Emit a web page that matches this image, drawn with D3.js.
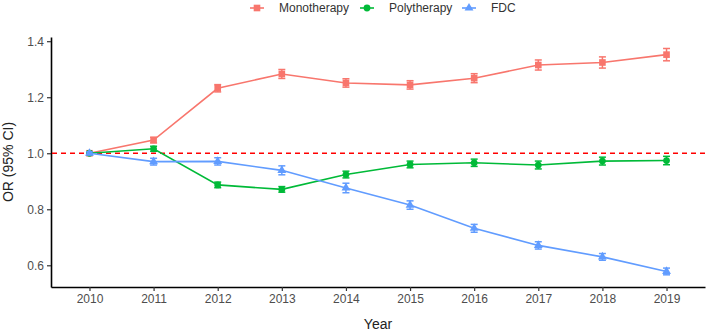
<!DOCTYPE html>
<html><head><meta charset="utf-8">
<script src="https://cdn.jsdelivr.net/npm/d3@7"></script>
<style>body{margin:0;background:#fff}svg{display:block;font-family:"Liberation Sans",Arial,sans-serif}</style>
</head><body>
<svg id="c" width="709" height="333"></svg>
<script>
const years = [2010,2011,2012,2013,2014,2015,2016,2017,2018,2019];
const seriesNames = ["Monotherapy","Polytherapy","FDC"];
const colors = ["#F8766D","#00BA38","#619CFF"];
const monoOR = [1.000,1.047,1.232,1.283,1.251,1.244,1.268,1.315,1.324,1.352];
const monoErr = [0.004,0.010,0.013,0.016,0.015,0.015,0.016,0.018,0.020,0.022];
const polyOR = [1.000,1.016,0.887,0.871,0.924,0.960,0.966,0.958,0.972,0.974];
const polyErr = [0.004,0.009,0.010,0.010,0.012,0.012,0.013,0.014,0.014,0.015];
const fdcOR = [1.000,0.970,0.971,0.939,0.876,0.815,0.732,0.671,0.630,0.578];
const fdcErr = [0.005,0.012,0.013,0.016,0.017,0.015,0.014,0.013,0.012,0.012];
const yTicks = [0.6,0.8,1.0,1.2,1.4];
const refValue = 1.0;

const data = [monoOR, polyOR, fdcOR].map((v,i)=>({
  name: seriesNames[i], color: colors[i],
  pts: years.map((y,j)=>({year:y, or:v[j], err:[monoErr,polyErr,fdcErr][i][j]}))
}));

const svg = d3.select("#c");
const L=51, R=705, T=37, B=287;
const x = d3.scaleLinear().domain([2009.4,2019.6]).range([L,R]);
const y = d3.scaleLinear().domain([0.5225,1.415]).range([B,T]);

// axes
const xAx = svg.append("g").attr("transform",`translate(0,${B})`)
  .call(d3.axisBottom(x).tickValues(years).tickFormat(d3.format("d")).tickSize(4).tickSizeOuter(0));
const yAx = svg.append("g").attr("transform",`translate(${L},0)`)
  .call(d3.axisLeft(y).tickValues(yTicks).tickFormat(d3.format(".1f")).tickSize(4).tickSizeOuter(0));
[xAx,yAx].forEach(a=>{
  a.select(".domain").attr("stroke","#000").attr("stroke-width",1.6);
  a.selectAll(".tick line").attr("stroke","#333").attr("stroke-width",1.2);
  a.selectAll(".tick text").attr("fill","#4D4D4D").style("font-size","12px").style("font-family","Liberation Sans, Arial, sans-serif");
});
xAx.selectAll(".tick text").attr("dy","0.71em").attr("y",7);
yAx.selectAll(".tick text").attr("x",-7);

// reference line
svg.append("line").attr("x1",L+1).attr("x2",R).attr("y1",y(refValue)).attr("y2",y(refValue))
  .attr("stroke","#FF0000").attr("stroke-width",1.5).attr("stroke-dasharray","5,4");

const line = d3.line().x(d=>x(d.year)).y(d=>y(d.or));
const sym = [d3.symbolSquare, d3.symbolCircle, d3.symbolTriangle];
const symSize = [44, 36, 34];

data.forEach((s,i)=>{
  const g = svg.append("g");
  g.append("path").datum(s.pts).attr("d",line).attr("fill","none").attr("stroke",s.color).attr("stroke-width",1.6);
  // points
  g.selectAll("path.pt").data(s.pts).join("path").attr("class","pt")
    .attr("d",d3.symbol().type(sym[i]).size(symSize[i]))
    .attr("transform",d=>`translate(${x(d.year)},${y(d.or)})`).attr("fill",s.color);
  // error bars
  const eb = g.selectAll("g.eb").data(s.pts).join("g").attr("class","eb")
    .attr("stroke",s.color).attr("stroke-width",1.5);
  eb.append("line").attr("x1",d=>x(d.year)).attr("x2",d=>x(d.year))
    .attr("y1",d=>y(d.or-d.err)).attr("y2",d=>y(d.or+d.err));
  eb.append("line").attr("x1",d=>x(d.year)-3.5).attr("x2",d=>x(d.year)+3.5)
    .attr("y1",d=>y(d.or-d.err)).attr("y2",d=>y(d.or-d.err));
  eb.append("line").attr("x1",d=>x(d.year)-3.5).attr("x2",d=>x(d.year)+3.5)
    .attr("y1",d=>y(d.or+d.err)).attr("y2",d=>y(d.or+d.err));
});

// axis titles
svg.append("text").attr("x",(L+R)/2).attr("y",329).attr("text-anchor","middle")
  .style("font-size","14px").attr("fill","#222").text("Year");
svg.append("text").attr("transform",`translate(13,${(T+B)/2}) rotate(-90)`).attr("text-anchor","middle")
  .style("font-size","14px").attr("fill","#222").text("OR (95% CI)");

// legend
const legX = [250,360,462];
const lg = svg.append("g");
data.forEach((s,i)=>{
  const cx = legX[i]+7, cy = 8;
  lg.append("line").attr("x1",legX[i]).attr("x2",legX[i]+14).attr("y1",cy).attr("y2",cy)
    .attr("stroke",s.color).attr("stroke-width",1.6);
  lg.append("path").attr("d",d3.symbol().type(sym[i]).size(symSize[i]))
    .attr("transform",`translate(${cx},${cy})`).attr("fill",s.color);
  lg.append("text").attr("x",legX[i]+29).attr("y",cy).attr("dy","0.35em")
    .style("font-size","12px").attr("fill","#333").text(s.name);
});
</script>
</body></html>
